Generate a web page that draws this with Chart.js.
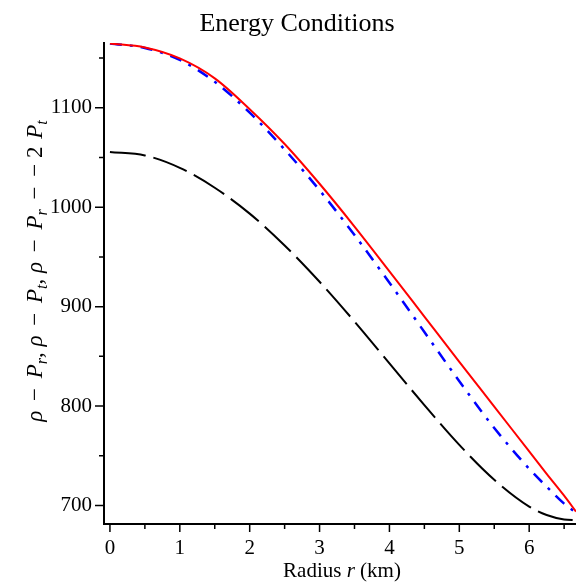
<!DOCTYPE html>
<html>
<head>
<meta charset="utf-8">
<script src="https://cdn.jsdelivr.net/npm/chart.js@4.4.0/dist/chart.umd.min.js"></script>
<style>
  html, body { margin: 0; padding: 0; background: #fff; }
</style>
</head>
<body>
<canvas id="energyChart" width="576" height="584"></canvas>
<script>
// Radius (km) and the three energy condition curves
const radius = [0, 0.5, 1, 1.5, 2, 2.5, 3, 3.5, 4, 4.5, 5, 5.5, 6, 6.25, 6.5, 6.67];
const rhoMinusPr = [1164.5, 1160.5, 1149.5, 1129.5, 1098.5, 1063.5, 1023.5, 980.5, 935.5, 890, 844.5, 799.5, 754.5, 732, 710, 694];
const rhoMinusPt = [1164.5, 1160, 1148, 1126, 1095, 1058, 1017, 972, 924, 874.5, 825, 778, 737, 719, 702, 693];
const rhoMinusPrMinus2Pt = [1055.5, 1052, 1039.5, 1019.5, 993.5, 961.5, 925, 885, 843, 801, 761, 726, 699, 690.5, 686, 685.3];

const xTicks = [0, 1, 2, 3, 4, 5, 6];
const xMinorTicks = [0.5, 1.5, 2.5, 3.5, 4.5, 5.5, 6.5];
const yTicks = [700, 800, 900, 1000, 1100];
const yMinorTicks = [750, 850, 950, 1050, 1150];

const SERIF = '"Liberation Serif", "Times New Roman", serif';

function toPoints(ys) {
    return radius.map(function(r, i) { return { x: r, y: ys[i] }; });
}

// Draws a run of text pieces (italic / subscript / gaps) centred on 0,0 of the current transform
function drawRich(ctx, parts, size, subSize) {
    let total = 0;
    parts.forEach(function(p) {
        if (p.gap) { p.w = p.gap; total += p.w; return; }
        ctx.font = (p.i ? 'italic ' : '') + (p.sub ? subSize : size) + 'px ' + SERIF;
        p.w = ctx.measureText(p.t).width;
        total += p.w;
    });
    let x = -total / 2;
    parts.forEach(function(p) {
        if (!p.gap) {
            ctx.font = (p.i ? 'italic ' : '') + (p.sub ? subSize : size) + 'px ' + SERIF;
            ctx.fillText(p.t, x, p.sub ? 5 : 0);
        }
        x += p.w;
    });
}

const decorations = {
    id: 'decorations',
    afterDraw: function(chart) {
        const ctx = chart.ctx;
        const sx = chart.scales.x;
        const sy = chart.scales.y;
        const area = chart.chartArea;
        ctx.save();
        ctx.strokeStyle = '#000';
        ctx.fillStyle = '#000';
        ctx.lineWidth = 1.5;

        // tick marks
        ctx.beginPath();
        xTicks.forEach(function(v) {
            const px = sx.getPixelForValue(v);
            ctx.moveTo(px, area.bottom); ctx.lineTo(px, area.bottom + 8);
        });
        xMinorTicks.forEach(function(v) {
            const px = sx.getPixelForValue(v);
            ctx.moveTo(px, area.bottom); ctx.lineTo(px, area.bottom + 5);
        });
        yTicks.forEach(function(v) {
            const py = sy.getPixelForValue(v);
            ctx.moveTo(area.left, py); ctx.lineTo(area.left - 9, py);
        });
        yMinorTicks.forEach(function(v) {
            const py = sy.getPixelForValue(v);
            ctx.moveTo(area.left, py); ctx.lineTo(area.left - 5, py);
        });
        ctx.stroke();

        // title
        ctx.textBaseline = 'alphabetic';
        ctx.textAlign = 'center';
        ctx.font = '26px ' + SERIF;
        ctx.fillText('Energy Conditions', 297, 31);

        // x axis title
        ctx.textAlign = 'left';
        ctx.save();
        ctx.translate(342, 577);
        drawRich(ctx, [
            { t: 'Radius ' }, { t: 'r', i: true }, { t: ' (km)' }
        ], 21, 15);
        ctx.restore();

        // y axis title
        const minus = [{ gap: 4 }, { t: ' − ' }, { gap: 4 }];
        ctx.save();
        ctx.translate(42, 271);
        ctx.rotate(-Math.PI / 2);
        drawRich(ctx, [].concat(
            [{ t: 'ρ', i: true }], minus, [{ t: 'P', i: true }, { t: 'r', i: true, sub: true }],
            [{ t: ', ' }, { t: 'ρ', i: true }], minus, [{ t: 'P', i: true }, { t: 't', i: true, sub: true }],
            [{ t: ', ' }, { t: 'ρ', i: true }], minus, [{ t: 'P', i: true }, { t: 'r', i: true, sub: true }],
            minus, [{ t: '− 2 ' }, { gap: 2 }, { t: 'P', i: true }, { t: 't', i: true, sub: true }]
        ), 23, 16);
        ctx.restore();

        ctx.restore();
    }
};

new Chart(document.getElementById('energyChart').getContext('2d'), {
    type: 'line',
    data: {
        datasets: [{
            label: 'rho - Pr',
            data: toPoints(rhoMinusPr),
            borderColor: '#ff0000',
            borderWidth: 2,
            pointRadius: 0,
            cubicInterpolationMode: 'monotone'
        }, {
            label: 'rho - Pt',
            data: toPoints(rhoMinusPt),
            borderColor: '#0000ff',
            borderWidth: 2.5,
            borderDash: [12, 8, 3, 8],
            pointRadius: 0,
            cubicInterpolationMode: 'monotone'
        }, {
            label: 'rho - Pr - 2Pt',
            data: toPoints(rhoMinusPrMinus2Pt),
            borderColor: '#000000',
            borderWidth: 2,
            borderDash: [36, 8],
            pointRadius: 0,
            cubicInterpolationMode: 'monotone'
        }]
    },
    options: {
        responsive: false,
        animation: false,
        layout: { padding: { top: 43, right: 0, bottom: 0, left: 0 } },
        plugins: {
            legend: { display: false },
            title: { display: false },
            tooltip: { enabled: false }
        },
        scales: {
            x: {
                type: 'linear',
                min: -0.085,
                max: 6.67,
                afterBuildTicks: function(scale) {
                    scale.ticks = xTicks.map(function(v) { return { value: v }; });
                },
                afterFit: function(scale) { scale.height = 60; },
                grid: { display: false, drawTicks: true, tickLength: 8 },
                border: { display: true, color: '#000', width: 2 },
                ticks: {
                    color: '#000',
                    font: { family: SERIF, size: 21 },
                    padding: 4,
                    maxRotation: 0,
                    autoSkip: false,
                    callback: function(value) { return String(value); }
                }
            },
            y: {
                min: 681.5,
                max: 1165,
                afterBuildTicks: function(scale) {
                    scale.ticks = yTicks.map(function(v) { return { value: v }; });
                },
                afterFit: function(scale) { scale.width = 104; },
                grid: { display: false, drawTicks: true, tickLength: 9 },
                border: { display: true, color: '#000', width: 2 },
                ticks: {
                    color: '#000',
                    font: { family: SERIF, size: 21 },
                    padding: 3,
                    autoSkip: false,
                    callback: function(value) { return String(value); }
                }
            }
        }
    },
    plugins: [decorations]
});
</script>
</body>
</html>
